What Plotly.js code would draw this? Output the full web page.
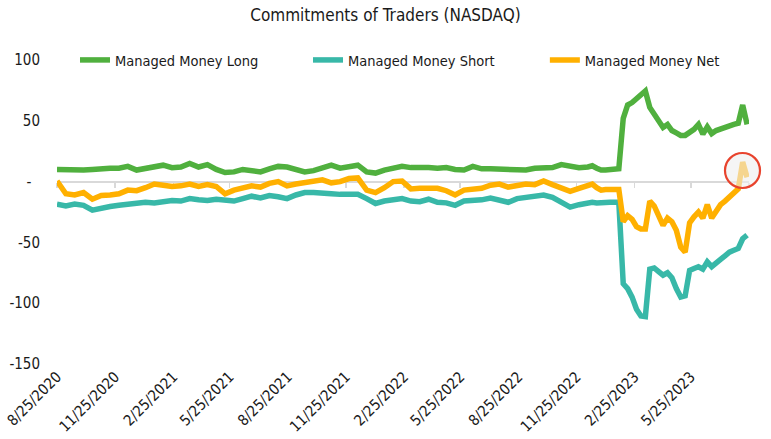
<!DOCTYPE html>
<html>
<head>
<meta charset="utf-8">
<script src="https://cdn.plot.ly/plotly-3.0.1.min.js"></script>
<style>html,body{margin:0;padding:0;background:#fff;}#chart{width:771px;height:439px;}</style>
</head>
<body>
<div id="chart"></div>
<script>
// Report dates (Tuesdays)
const dates = [
'2020-08-25','2020-09-08','2020-09-22','2020-10-06','2020-10-20','2020-11-03','2020-11-17','2020-12-01','2020-12-15','2020-12-29',
'2021-01-12','2021-01-26','2021-02-09','2021-02-23','2021-03-09','2021-03-23','2021-04-06','2021-04-20','2021-05-04','2021-05-18',
'2021-06-01','2021-06-15','2021-06-29','2021-07-13','2021-07-27','2021-08-10','2021-08-24','2021-09-07','2021-09-21','2021-10-05',
'2021-10-19','2021-11-02','2021-11-16','2021-11-30','2021-12-14','2021-12-28','2022-01-11','2022-01-25','2022-02-08','2022-02-22',
'2022-03-08','2022-03-22','2022-04-05','2022-04-19','2022-05-03','2022-05-17','2022-05-31','2022-06-14','2022-06-28','2022-07-12',
'2022-07-26','2022-08-09','2022-08-23','2022-09-06','2022-09-20','2022-10-04','2022-10-18','2022-11-01','2022-11-15','2022-11-29','2022-12-13',
'2022-12-20','2022-12-27','2023-01-03','2023-01-10','2023-01-17','2023-01-24','2023-01-31','2023-02-07','2023-02-14','2023-02-21',
'2023-02-28','2023-03-07','2023-03-14','2023-03-21','2023-03-28','2023-04-04','2023-04-11','2023-04-18','2023-04-25','2023-05-02',
'2023-05-09','2023-05-16','2023-05-23','2023-05-30','2023-06-06','2023-06-13','2023-06-20','2023-06-27','2023-07-04','2023-07-11',
'2023-07-18','2023-07-25','2023-08-01','2023-08-08','2023-08-15','2023-08-22'
];

const longVals = [
10, 9.5, 9.5, 9.5, 10, 11, 11, 11, 12.5, 9.5,
11, 13, 13.5, 11.5, 12, 15, 12, 14, 10, 7.5,
8, 10, 9, 8, 10.5, 12.5, 12, 10, 8, 9,
11.5, 13.5, 11, 12, 13.5, 8, 7, 9.5, 11.5, 12.5,
11.5, 12, 11.5, 11, 11.5, 10, 9.5, 12.5, 10.5, 10.5,
10.5, 10.5, 10, 9.5, 11, 11.5, 11.5, 14, 13, 11.5, 12,
13, 11, 9.5, 9.5, 10, 11, 10.5, 52, 63, 65,
68, 71, 74.5, 61, 56, 50, 44.5, 47, 42, 40,
38, 38, 40.5, 43, 47, 39, 45, 39.5, 42, 43.5,
45, 46, 47, 48, 63, 47
];

const shortVals = [
-18.5, -20, -18.5, -19.5, -23.5, -21.5, -20.5, -19.5, -18.5, -17.5,
-17, -17.5, -16, -15.5, -16, -14, -15, -15.5, -14.5, -15.5,
-16, -14, -12, -13.5, -11.5, -12.5, -14, -11, -9, -9,
-10, -10, -10.5, -10.5, -10.5, -14, -18, -16, -14.5, -14,
-16, -16.5, -14.5, -17, -17.5, -19.5, -16, -16, -15, -13.5,
-15, -17, -14, -13, -12, -11, -13, -17, -21, -19, -17.5,
-17, -17.5, -17, -16.5, -17, -17, -17, -84, -88, -95,
-105, -110.5, -111, -72, -71, -74, -77, -75, -79, -88,
-95, -94, -73, -71.5, -70, -72, -66, -70, -67.5, -64,
-61, -58, -56.5, -55, -47, -44
];

const netVals = [
0.5, -10, -11, -9, -14.5, -11.5, -11, -10, -7, -7.5,
-5, -2, -3, -4, -3.5, -2, -4, -2.5, -4, -10,
-7, -5, -3.5, -4.5, -1.5, 0, -3.5, -2, -1, 0,
1.5, -1, 0, 2.5, 3, -7, -9, -5, 0, 0.5,
-6, -5.5, -5, -5.5, -7.5, -11, -7, -6.5, -5.5, -3,
-2, -4.5, -3.3, -2, -2.5, 0.5, -2.5, -5.5, -8, -5.5, -2.5,
-2, -5, -7, -6.5, -6, -6.5, -6.5, -33, -28, -31,
-37, -39, -39, -16, -20, -29, -36, -30, -33, -40,
-54, -58, -34, -29, -25, -30, -19, -30, -25, -19,
-16, -13, -9, -6, 16, 3.5
];

const seriesNames = ['Managed Money Long', 'Managed Money Short', 'Managed Money Net'];

const xTickVals = ['2020-08-25','2020-11-25','2021-02-25','2021-05-25','2021-08-25','2021-11-25',
                   '2022-02-25','2022-05-25','2022-08-25','2022-11-25','2023-02-25','2023-05-25'];
const xTickText = ['8/25/2020','11/25/2020','2/25/2021','5/25/2021','8/25/2021','11/25/2021',
                   '2/25/2022','5/25/2022','8/25/2022','11/25/2022','2/25/2023','5/25/2023'];
const xMinorTicks = xTickVals.concat(['2023-08-25']);

const yTickVals = [100, 50, 0, -50, -100, -150];
const yTickText = ['100', '50', '-\u00a0\u00a0', '-50', '-100', '-150'];

const FONT = '"DejaVu Sans Condensed", "Liberation Sans Narrow", "Roboto", sans-serif';
const colors = ['#50B03E', '#38B8A8', '#FFB000'];
const legendIds = ['legend', 'legend2', 'legend3'];

const traces = [];
// invisible carrier trace so the zero-line axis (x2) is drawn
traces.push({type: 'scatter', mode: 'lines', x: dates, y: netVals, xaxis: 'x2', yaxis: 'y',
  line: {color: 'rgba(0,0,0,0)', width: 0}, showlegend: false, hoverinfo: 'skip'});
[longVals, shortVals, netVals].forEach((v, i) => traces.push({
  type: 'scatter', mode: 'lines', x: dates, y: v, name: seriesNames[i], legend: legendIds[i],
  line: {color: colors[i], width: 5.5, shape: 'linear'},
  hoverinfo: 'skip'
}));

const legendBase = {orientation: 'h', y: 1, yanchor: 'middle', xanchor: 'left',
  font: {family: FONT, size: 14.5, color: '#1a1a1a'}, bgcolor: 'rgba(0,0,0,0)'};

const layout = {
  width: 771, height: 439,
  margin: {l: 57, r: 22, t: 60, b: 75},
  paper_bgcolor: '#ffffff', plot_bgcolor: '#ffffff',
  font: {family: FONT, color: '#1a1a1a', size: 15},
  title: {text: 'Commitments of Traders (NASDAQ)', x: 0.5, xanchor: 'center', y: 0.966, yanchor: 'middle',
          font: {family: FONT, size: 17, color: '#1a1a1a'}},
  showlegend: true,
  legend: Object.assign({}, legendBase, {x: 0.026}),
  legend2: Object.assign({}, legendBase, {x: 0.3627}),
  legend3: Object.assign({}, legendBase, {x: 0.705}),
  xaxis: {type: 'date', range: ['2020-08-25', '2023-08-25'], tickmode: 'array',
          tickvals: xTickVals, ticktext: xTickText, tickangle: -45,
          showgrid: false, zeroline: false, showline: false, ticks: '',
          tickfont: {family: FONT, size: 15, color: '#1a1a1a'}, fixedrange: true},
  xaxis2: {type: 'date', range: ['2020-08-25', '2023-08-25'], overlaying: 'x', anchor: 'free', position: 0.6,
           tickmode: 'array', tickvals: xMinorTicks, showticklabels: false,
           showline: true, linecolor: '#d9d9d9', linewidth: 2, ticks: 'outside', ticklen: 5,
           tickcolor: '#d9d9d9', tickwidth: 1.5, showgrid: false, zeroline: false, side: 'bottom', layer: 'below traces'},
  yaxis: {range: [-150, 100], tickmode: 'array', tickvals: yTickVals, ticktext: yTickText,
          showgrid: false, zeroline: false, showline: false, ticks: 'outside', ticklen: 13,
          tickcolor: 'rgba(0,0,0,0)', tickfont: {family: FONT, size: 15, color: '#1a1a1a'}, fixedrange: true},
  shapes: [{type: 'circle', xref: 'paper', yref: 'paper', x0: 0.9653, x1: 1.0159, y0: 0.579, y1: 0.694,
            line: {color: '#E8432D', width: 2.2}, fillcolor: 'rgba(238,238,238,0.6)', layer: 'above'}]
};

Plotly.newPlot('chart', traces, layout, {displayModeBar: false, staticPlot: true});
</script>
</body>
</html>
